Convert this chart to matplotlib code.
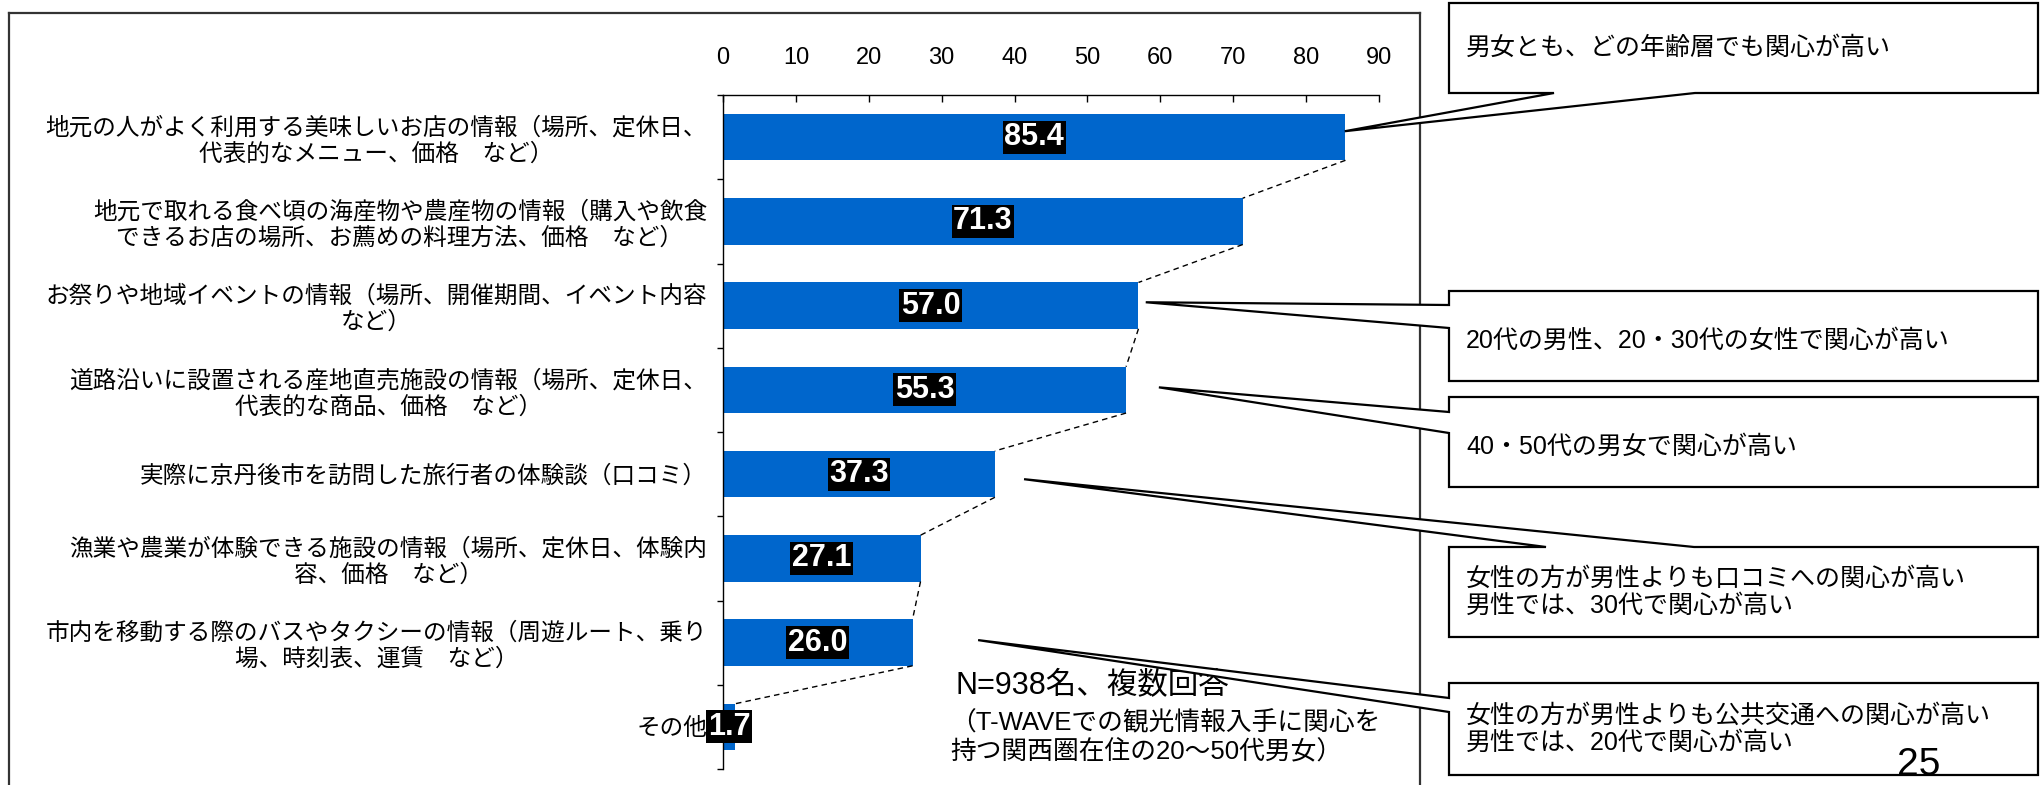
import matplotlib
matplotlib.use("Agg")
import matplotlib.pyplot as plt
from matplotlib.patches import Polygon
from matplotlib.lines import Line2D

plt.rcParams['font.family'] = ['Liberation Sans', 'Noto Sans CJK JP']

# ---- data ----
categories = [
    "地元の人がよく利用する美味しいお店の情報（場所、定休日、\n代表的なメニュー、価格　など）",
    "地元で取れる食べ頃の海産物や農産物の情報（購入や飲食\nできるお店の場所、お薦めの料理方法、価格　など）",
    "お祭りや地域イベントの情報（場所、開催期間、イベント内容\nなど）",
    "道路沿いに設置される産地直売施設の情報（場所、定休日、\n代表的な商品、価格　など）",
    "実際に京丹後市を訪問した旅行者の体験談（口コミ）",
    "漁業や農業が体験できる施設の情報（場所、定休日、体験内\n容、価格　など）",
    "市内を移動する際のバスやタクシーの情報（周遊ルート、乗り\n場、時刻表、運賃　など）",
    "その他",
]
values = [85.4, 71.3, 57.0, 55.3, 37.3, 27.1, 26.0, 1.7]
x_ticks = [0, 10, 20, 30, 40, 50, 60, 70, 80, 90]

callout_texts = [
    "男女とも、どの年齢層でも関心が高い",
    "20代の男性、20・30代の女性で関心が高い",
    "40・50代の男女で関心が高い",
    "女性の方が男性よりも口コミへの関心が高い\n男性では、30代で関心が高い",
    "女性の方が男性よりも公共交通への関心が高い\n男性では、20代で関心が高い",
]
callout_category = [0, 2, 3, 4, 6]

note_title = "N=938名、複数回答"
note_sub = "（T-WAVEでの観光情報入手に関心を\n持つ関西圏在住の20～50代男女）"
page_number = "25"

# ---- layout ----
W, H = 2044, 785
fig = plt.figure(figsize=(W / 100, H / 100), dpi=100)


def fx(px):
    return px / W


def fy(py):
    return 1 - py / H


ax = fig.add_axes([fx(723), fy(769), fx(1379) - fx(723), fy(95) - fy(769)])

bar_color = "#0066CC"
bar_h = 0.55
ypos = list(range(len(values)))
ax.barh(ypos, values, height=bar_h, color=bar_color, zorder=2)
ax.set_xlim(0, 90)
ax.set_ylim(len(values) - 0.5, -0.5)

# value labels
for y, v in zip(ypos, values):
    ax.text(v / 2, y, f"{v:.1f}", ha="center", va="center", color="white",
            fontsize=22, fontweight="bold", family="Liberation Sans", zorder=5,
            clip_on=False,
            bbox=dict(boxstyle="square,pad=0.05", facecolor="black", edgecolor="none"))

# series lines between neighbouring bars
for i in range(len(values) - 1):
    ax.add_line(Line2D([values[i], values[i + 1]],
                       [ypos[i] + bar_h / 2, ypos[i + 1] - bar_h / 2],
                       color="black", lw=1.0, linestyle=(0, (4, 3)),
                       clip_on=False, zorder=3))

# axes styling
ax.xaxis.tick_top()
ax.set_xticks(x_ticks)
ax.set_xticklabels([str(t) for t in x_ticks], fontsize=17)
ax.tick_params(axis="x", which="major", direction="in", length=5, width=1,
               pad=19, top=True, bottom=False, labeltop=True, labelbottom=False)

ax.set_yticks(ypos)
ax.set_yticklabels(categories, fontsize=17)
for t in ax.get_yticklabels():
    t.set_multialignment("center")
ax.tick_params(axis="y", which="major", length=0, pad=11.5)
ax.set_yticks([y - 0.5 for y in ypos] + [ypos[-1] + 0.5], minor=True)
ax.tick_params(axis="y", which="minor", direction="out", length=4.5, width=1)

for side in ("right", "bottom"):
    ax.spines[side].set_visible(False)
for side in ("top", "left"):
    ax.spines[side].set_linewidth(1.0)

# outer frame of the chart area
frame_kw = dict(color="#333333", lw=1.6, transform=fig.transFigure)
fig.add_artist(Line2D([fx(9), fx(1420)], [fy(13), fy(13)], **frame_kw))
fig.add_artist(Line2D([fx(9), fx(9)], [fy(13), fy(800)], **frame_kw))
fig.add_artist(Line2D([fx(1420), fx(1420)], [fy(13), fy(800)], **frame_kw))

# ---- callouts ----
tip_offsets = [(-0.1, -0.07), (1.0, -0.04), (4.5, -0.03), (4.0, 0.06), (9.0, -0.03)]


def tip_px(cat, off):
    dx, dy = off
    x, y = ax.transData.transform((values[cat] + dx, ypos[cat] + dy))
    return x, H - y


L, R = 1449, 2038
boxes = [
    # (top, bottom, notch side, notch a, notch b)
    (3, 93, "bottom", 1554, 1695),
    (291, 381, "left", 305, 328),
    (397, 487, "left", 412, 433),
    (547, 637, "top", 1546, 1694),
    (683, 775, "left", 698, 712),
]

for (top, bot, side, a, b), cat, off, txt in zip(boxes, callout_category,
                                                   tip_offsets, callout_texts):
    tx, ty = tip_px(cat, off)
    if side == "bottom":
        pts = [(L, top), (R, top), (R, bot), (b, bot), (tx, ty), (a, bot), (L, bot)]
    elif side == "top":
        pts = [(L, top), (a, top), (tx, ty), (b, top), (R, top), (R, bot), (L, bot)]
    else:
        pts = [(L, top), (R, top), (R, bot), (L, bot), (L, b), (tx, ty), (L, a)]
    poly = Polygon([(fx(x), fy(y)) for x, y in pts], closed=True,
                   facecolor="white", edgecolor="black", lw=1.6,
                   transform=fig.transFigure, zorder=10)
    fig.add_artist(poly)
    ymid = (top + bot) / 2 + (5 if side == "left" and "\n" not in txt else 0)
    fig.text(fx(1466), fy(ymid), txt, ha="left", va="center", fontsize=18,
             linespacing=1.15, zorder=11)

# ---- notes ----
fig.text(fx(956), fy(686), note_title, ha="left", va="center", fontsize=22)
fig.text(fx(950), fy(737), note_sub, ha="left", va="center", fontsize=18.5,
         linespacing=1.15)
fig.text(fx(1919), fy(765), page_number, ha="center", va="center", fontsize=28,
         zorder=12)

fig.savefig("out.png", dpi=100)
